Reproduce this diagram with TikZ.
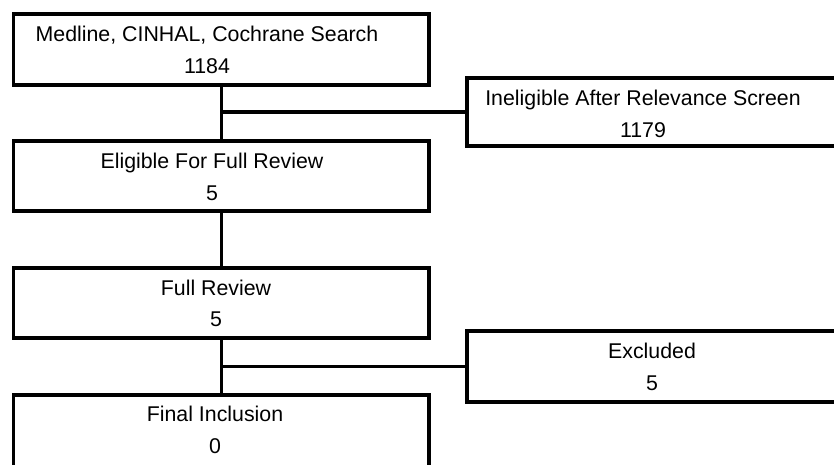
\documentclass[tikz,border=0pt]{standalone}
\usepackage{fontspec}
\setmainfont{Liberation Sans}
\begin{document}
\begin{tikzpicture}[x=0.75pt,y=-0.75pt,
  box/.style={draw=black,line width=2.4pt,fill=none,inner sep=0pt,outer sep=0pt,minimum width=#1},
  box/.default=311.6pt,
  lbl/.style={align=center,inner sep=0pt,font=\fontsize{16}{19}\selectfont},
  conn/.style={draw=black,line width=2.4pt}]
\useasboundingbox (0,0) rectangle (834,464);
\begin{scope}
\clip (0,0) rectangle (834,464);
\node[box,minimum height=53.25pt] (b1) at (221.25,49.5) {};
\node[box,minimum height=52.5pt] (b2) at (221.25,176) {};
\node[box,minimum height=52.5pt] (b3) at (221.25,303) {};
\node[box,minimum height=101.25pt] (b4) at (221.25,462.5) {};
\node[box=324.75pt,minimum height=51pt] (r1) at (683.5,112) {};
\node[box=324.75pt,minimum height=53.25pt] (r2) at (683.5,366.5) {};
\end{scope}
\node[lbl] (t1) at (207,50) {Medline, CINHAL, Cochrane Search\\[4.5pt]1184};
\node[lbl] (t2) at (212,177) {Eligible For Full Review\\[4.5pt]5};
\node[lbl] (t3) at (216,303.5) {Full Review\\[4.5pt]5};
\node[lbl] (t4) at (215,430) {Final Inclusion\\[4.5pt]0};
\node[lbl] (t5) at (643,114) {Ineligible After Relevance Screen\\[4.5pt]1179};
\node[lbl] (t6) at (652,367) {Excluded\\[4.5pt]5};
\draw[conn] (b1.south) -- (b2.north);
\draw[conn] (b1.south |- r1.west) -- (r1.west);
\draw[conn] (b2.south) -- (b3.north);
\draw[conn] (b3.south) -- (b4.north);
\draw[conn] (b3.south |- r2.west) -- (r2.west);
\end{tikzpicture}
\end{document}
